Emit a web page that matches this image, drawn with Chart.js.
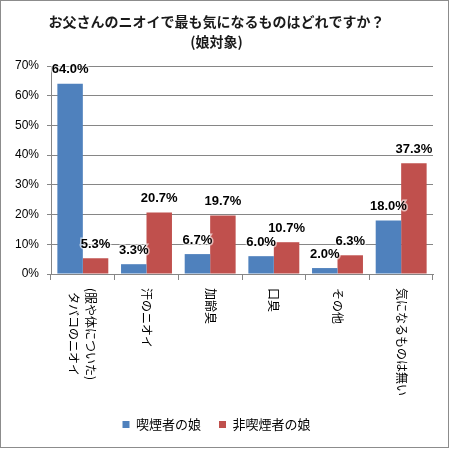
<!DOCTYPE html>
<html>
<head>
<meta charset="utf-8">
<script src="https://cdn.jsdelivr.net/npm/chart.js@4/dist/chart.umd.min.js"></script>
<style>
  html, body { margin: 0; padding: 0; background: #fff; }
  #wrap { width: 450px; height: 449px; }
</style>
</head>
<body>
<div id="wrap"><canvas id="chart" width="450" height="449"></canvas></div>
<script>
// -------------------------------------------------------------
// Data
// -------------------------------------------------------------
const titleLines = ['お父さんのニオイで最も気になるものはどれですか？', '(娘対象)']
// x labels, drawn rotated 90deg clockwise; each entry is a list of lines
const categories = [
  ['(服や体についた)', 'タバコのニオイ'],
  ['汗のニオイ'],
  ['加齢臭'],
  ['口臭'],
  ['その他'],
  ['気になるものは無い']
]
const seriesNames = ['喫煙者の娘', '非喫煙者の娘']
const smokerValues = [64.0, 3.3, 6.7, 6.0, 2.0, 18.0]
const nonSmokerValues = [5.3, 20.7, 19.7, 10.7, 6.3, 37.3]
const yTicks = [0, 10, 20, 30, 40, 50, 60, 70]

const BLUE = '#4f81bd'
const RED = '#c0504d'
const GRID = '#868686'
const JP = '"Noto Sans CJK JP", "Noto Sans", sans-serif'

// -------------------------------------------------------------
// Small plugins: frame, value labels, rotated x labels
// -------------------------------------------------------------
const frame = {
  id: 'frame',
  beforeDraw(chart) {
    const { ctx, width, height } = chart
    ctx.save()
    ctx.fillStyle = '#fff'
    ctx.fillRect(0, 0, width, height)
    ctx.strokeStyle = '#8c8c8c'
    ctx.lineWidth = 1
    ctx.strokeRect(0.5, 0.5, width - 2, height - 2)
    ctx.restore()
  }
}

const valueLabels = {
  id: 'valueLabels',
  afterDatasetsDraw(chart) {
    const { ctx } = chart
    ctx.save()
    ctx.font = 'bold 13px "Liberation Sans", Arial, sans-serif'
    ctx.textAlign = 'center'
    ctx.textBaseline = 'middle'
    chart.data.datasets.forEach((ds, di) => {
      chart.getDatasetMeta(di).data.forEach((bar, i) => {
        const txt = ds.data[i].toFixed(1) + '%'
        ctx.lineWidth = 3
        ctx.strokeStyle = 'rgba(255,255,255,0.6)'
        ctx.strokeText(txt, bar.x, bar.y - 14)
        ctx.fillStyle = '#000'
        ctx.fillText(txt, bar.x, bar.y - 14)
      })
    })
    ctx.restore()
  }
}

// Excel-style labels: text turned 90deg clockwise, reading top to bottom,
// lines of one label centred on each other
const rotatedLabels = {
  id: 'rotatedLabels',
  afterDraw(chart) {
    const { ctx } = chart
    const xs = chart.scales.x
    const lineGap = 17
    const top = xs.top + 14
    ctx.save()
    ctx.font = '12px ' + JP
    ctx.fillStyle = '#000'
    ctx.textAlign = 'left'
    ctx.textBaseline = 'middle'
    categories.forEach((lines, i) => {
      const cx = xs.getPixelForValue(i) - (lines.length > 1 ? 1 : 0)
      const widths = lines.map(l => ctx.measureText(l).width)
      const maxW = Math.max(...widths)
      ctx.save()
      ctx.translate(cx, top)
      ctx.rotate(Math.PI / 2)
      lines.forEach((line, li) => {
        const y = (li - (lines.length - 1) / 2) * lineGap
        ctx.fillText(line, (maxW - widths[li]) / 2, y)
      })
      ctx.restore()
    })
    ctx.restore()
  }
}

// -------------------------------------------------------------
// Chart
// -------------------------------------------------------------
new Chart(document.getElementById('chart'), {
  type: 'bar',
  data: {
    labels: categories.map(c => c.join('')),
    datasets: [
      { label: seriesNames[0], data: smokerValues, backgroundColor: BLUE },
      { label: seriesNames[1], data: nonSmokerValues, backgroundColor: RED }
    ]
  },
  options: {
    responsive: false,
    animation: false,
    devicePixelRatio: 1,
    layout: { padding: { left: 0, right: 17, top: 0, bottom: 8 } },
    datasets: { bar: { categoryPercentage: 0.8, barPercentage: 1.0 } },
    plugins: {
      tooltip: { enabled: false },
      title: {
        display: true,
        text: titleLines,
        color: '#1a1a1a',
        font: { family: JP, size: 14, weight: 'bold', lineHeight: '20px' },
        padding: { top: 12, bottom: 14 }
      },
      legend: {
        position: 'bottom',
        labels: {
          boxWidth: 7,
          boxHeight: 7,
          padding: 18,
          color: '#000',
          font: { family: JP, size: 13 }
        }
      }
    },
    scales: {
      x: {
        offset: true,
        grid: { display: true, offset: true, drawOnChartArea: false, drawTicks: true, tickLength: 6, color: GRID },
        border: { display: true, color: GRID },
        ticks: { callback: () => '' },
        afterFit: s => { s.height = 126 }
      },
      y: {
        min: 0,
        max: 70,
        afterBuildTicks: s => { s.ticks = yTicks.map(v => ({ value: v })) },
        grid: { color: GRID, tickLength: 4 },
        border: { display: true, color: GRID },
        ticks: {
          padding: 8,
          color: '#000',
          font: { family: '"Liberation Sans", Arial, sans-serif', size: 12 },
          callback: v => v + '%'
        },
        afterFit: s => { s.width = 51 }
      }
    }
  },
  plugins: [frame, valueLabels, rotatedLabels]
})
</script>
</body>
</html>
